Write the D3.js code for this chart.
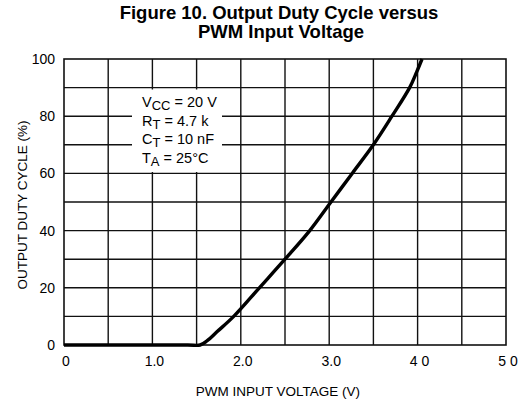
<!DOCTYPE html>
<html lang="en">
<head>
<meta charset="UTF-8">
<title>Figure 10</title>
<script src="https://d3js.org/d3.v7.min.js"></script>
<style>
  body { margin: 0; padding: 0; background: #fff; }
  svg { display: block; font-family: "Liberation Sans", Arial, sans-serif; }
  .title { font-weight: bold; }
</style>
</head>
<body>
<svg width="525" height="401"></svg>
<script>
// values
const voltage = [0, 1.4, 1.54, 1.62, 1.73, 1.92, 2.21, 2.5, 2.78, 3.02, 3.26, 3.5, 3.71, 3.91, 3.99, 4.05];
const duty    = [0, 0,   0,    1.5,  4.6,  10,   20,   30,  40,   50,   60,   70,  80,   90,   95.5, 100];
const xTicks = [0, 1, 2, 3, 4, 5];
const xTickLabels = ["0", "1.0", "2.0", "3.0", "4 0", "5 0"];
const yTicks = [0, 20, 40, 60, 80, 100];
const notes = [["V", "CC", " = 20 V"], ["R", "T", " = 4.7 k"], ["C", "T", " = 10 nF"], ["T", "A", " = 25°C"]];

const svg = d3.select("svg");
const plotL = 64, plotR = 506, plotT = 59, plotB = 345;

const x = d3.scaleLinear().domain([0, 5]).range([plotL, plotR]);
const y = d3.scaleLinear().domain([0, 100]).range([plotB, plotT]);

// title
svg.append("text").attr("class", "title").attr("x", 279).attr("y", 19).attr("text-anchor", "middle")
  .attr("font-size", 18.5).text("Figure 10. Output Duty Cycle versus");
svg.append("text").attr("class", "title").attr("x", 281).attr("y", 38).attr("text-anchor", "middle")
  .attr("font-size", 18.5).text("PWM Input Voltage");

// grid
const g = svg.append("g").attr("stroke", "#111").attr("stroke-width", 1.4);
d3.range(1, 10).forEach(i => {
  g.append("line").attr("x1", x(i * 0.5)).attr("x2", x(i * 0.5)).attr("y1", plotT).attr("y2", plotB);
  g.append("line").attr("y1", y(i * 10)).attr("y2", y(i * 10)).attr("x1", plotL).attr("x2", plotR);
});
svg.append("rect").attr("x", plotL).attr("y", plotT).attr("width", plotR - plotL).attr("height", plotB - plotT)
  .attr("fill", "none").attr("stroke", "#111").attr("stroke-width", 1.6);

// note box
svg.append("rect").attr("x", 132).attr("y", 89.5).attr("width", 90).attr("height", 82.5).attr("fill", "#fff");
notes.forEach((n, i) => {
  const t = svg.append("text").attr("x", 142).attr("y", 107 + i * 18.5).attr("font-size", 14.5);
  t.append("tspan").text(n[0]);
  t.append("tspan").attr("dy", 3).attr("font-size", 13).text(n[1]);
  t.append("tspan").attr("dy", -3).text(n[2]);
});

// curve
const pts = voltage.map((v, i) => [v, duty[i]]);
svg.append("path").datum(pts)
  .attr("fill", "none").attr("stroke", "#000").attr("stroke-width", 3.4)
  .attr("d", d3.line().x(d => x(d[0])).y(d => y(d[1])).curve(d3.curveCatmullRom.alpha(0.5)));

// tick labels
svg.selectAll(".yt").data(yTicks).enter().append("text")
  .attr("x", 55).attr("y", d => y(d) + 5).attr("text-anchor", "end")
  .attr("font-size", 14).text(d => d);
svg.selectAll(".xt").data(xTicks).enter().append("text")
  .attr("x", d => x(d) + 2).attr("y", 366).attr("text-anchor", "middle")
  .attr("font-size", 14).text((d, i) => xTickLabels[i]);

// axis titles
svg.append("text").attr("x", 278).attr("y", 396).attr("text-anchor", "middle")
  .attr("font-size", 13.5).text("PWM INPUT VOLTAGE (V)");
svg.append("text").attr("transform", "translate(27,205) rotate(-90)")
  .attr("text-anchor", "middle").attr("font-size", 13.5).text("OUTPUT DUTY CYCLE (%)");
</script>
</body>
</html>
